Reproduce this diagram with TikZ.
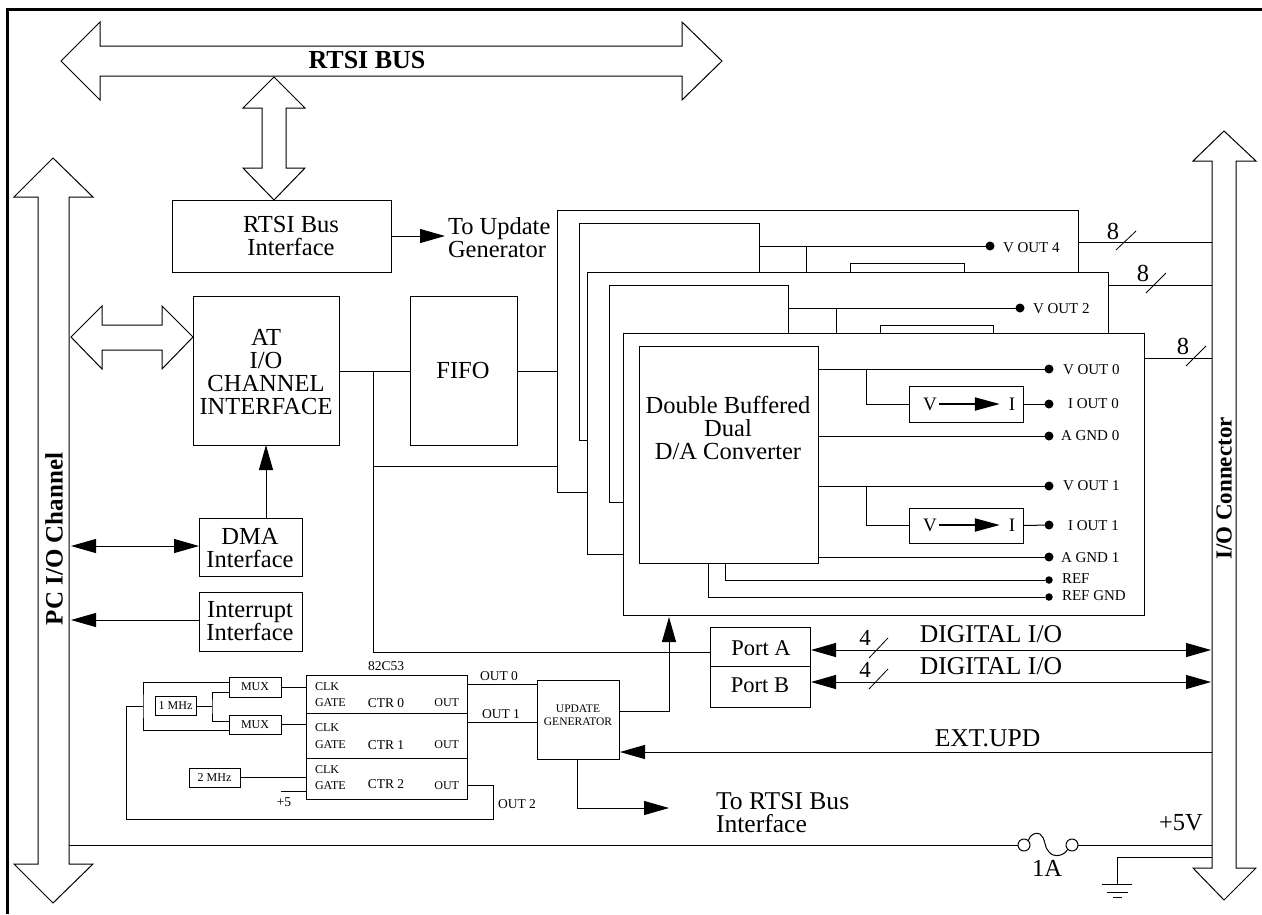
\documentclass[tikz,border=0pt]{standalone}
\usepackage{fontspec}
\setmainfont{Liberation Serif}
\usetikzlibrary{arrows.meta,calc}
\newcommand{\blk}[7][]{%
  \pgfmathsetmacro\blkw{#5-#3}\pgfmathsetmacro\blkh{#6-#4}%
  \node[bx,#1,minimum width=\blkw pt,minimum height=\blkh pt,anchor=north west] (#2) at (#3,#4) {#7};}
\tikzset{
  every path/.style={line width=1pt,line join=miter},
  bx/.style={draw,fill=white,inner sep=0pt,outer sep=0pt,align=center},
  txtL/.style={inner sep=0pt,outer sep=0pt,align=center,font=\fontsize{24.5}{23}\selectfont},
  txtX/.style={inner sep=0pt,outer sep=0pt,align=center,font=\fontsize{25.6}{23}\selectfont},
  txtM/.style={inner sep=0pt,outer sep=0pt,align=center,font=\fontsize{15}{15}\selectfont},
  txtO/.style={inner sep=0pt,outer sep=0pt,align=center,font=\fontsize{13.5}{13.5}\selectfont},
  txtS/.style={inner sep=0pt,outer sep=0pt,align=center,font=\fontsize{12}{12}\selectfont},
  txtT/.style={inner sep=0pt,outer sep=0pt,align=center,font=\fontsize{11.5}{13}\selectfont},
  txtB/.style={inner sep=0pt,outer sep=0pt,align=center,font=\fontsize{26}{26}\bfseries\selectfont},
  txtV/.style={inner sep=0pt,outer sep=0pt,font=\fontsize{19}{19}\selectfont},
  txtP/.style={inner sep=0pt,outer sep=0pt,font=\fontsize{22.5}{22.5}\selectfont},
  pin/.style={circle,fill=black,inner sep=0pt,outer sep=0pt,minimum size=9pt},
  pinS/.style={circle,fill=black,inner sep=0pt,outer sep=0pt,minimum size=7.5pt},
  arr/.style={-{Triangle[length=25pt,width=14pt]}},
  arrB/.style={{Triangle[length=25pt,width=14pt]}-{Triangle[length=25pt,width=14pt]}},
  heavy/.style={line width=2pt,-{Triangle[length=25pt,width=13pt]}},
  slash/.style={line width=0.8pt},
}
\begin{document}
\begin{tikzpicture}[x=1pt,y=-1pt]
\useasboundingbox (0,0) rectangle (1262,914);
% frame
\draw[line width=3pt] (7.5,914) -- (7.5,9.5) -- (1262,9.5);
% hollow buses
\draw (61,61) -- (100,22) -- (100,46) -- (682,46) -- (682,22) -- (722,61) -- (682,100) -- (682,76) -- (100,76) -- (100,100) -- cycle;
\draw (274,77) -- (305,108) -- (286,108) -- (286,168) -- (305,168) -- (274,200) -- (243,168) -- (262,168) -- (262,108) -- (243,108) -- cycle;
\draw (53,158) -- (93,197) -- (69,197) -- (69,864) -- (93,864) -- (53,903) -- (14,864) -- (38,864) -- (38,197) -- (14,197) -- cycle;
\draw (1224,131) -- (1256,161) -- (1236,161) -- (1236,868) -- (1256,868) -- (1224,900) -- (1193,868) -- (1212,868) -- (1212,161) -- (1193,161) -- cycle;
\draw (71,337) -- (102,306) -- (102,325) -- (162,325) -- (162,306) -- (193,337) -- (162,369) -- (162,350) -- (102,350) -- (102,369) -- cycle;
\coordinate (pcR) at (69,0);
\coordinate (ioL) at (1212,0);
\node[txtB] (rtsibus) at (367,60) {RTSI BUS};
\node[txtB,rotate=90,font=\fontsize{25}{25}\bfseries\selectfont] (pclabel) at (54,539) {PC I/O Channel};
\node[txtB,rotate=90,font=\fontsize{23}{23}\bfseries\selectfont] (iolabel) at (1224,488.5) {I/O Connector};
% left blocks
\blk{rtsi}{172}{200}{391}{272}{}
\node[txtL] (rtsit) at (291,236) {RTSI Bus\\Interface};
\blk{at}{193}{296}{339}{445}{}
\node[txtL] (att) at (266,372) {AT\\I/O\\CHANNEL\\INTERFACE};
\blk{fifo}{410}{296}{517}{445}{}
\node[txtL] (fifot) at (463,371) {FIFO};
\blk{dma}{199}{518}{302}{576}{}
\node[txtL] (dmat) at (250,548) {DMA\\Interface};
\blk{irq}{199}{592}{302}{651}{}
\node[txtL] (irqt) at (250,621) {Interrupt\\Interface};
\node[txtL,anchor=west,align=left] (togen) at (448,238) {To Update\\Generator};
\coordinate (rtsiTip) at (445,236);
\draw[arr] (rtsi.east |- rtsiTip) -- (rtsiTip);
\draw[arr] (dma.north -| at.south) -- (at.south);
\coordinate (dmaL) at (71,546);
\draw[arrB] (dmaL) -- (dma.west |- dmaL);
\coordinate (irqL) at (71,620);
\draw[arr] (irq.west |- irqL) -- (irqL);
% busses between blocks
\coordinate (busA) at (373,371);
\coordinate (busB) at (373,466);
\coordinate (busC) at (373,652);
\draw (at.east |- busA) -- (fifo.west |- busA);
% boards
\blk{bd4}{557}{210}{1078}{492}{}
\blk{in4}{579}{223}{759}{440}{}
\node[pin] (vo4) at (990,246) {};
\coordinate (br4) at (806,246);
\draw (in4.east |- vo4) -- (vo4);
\draw (br4) -- (806,272);
\blk{vi4}{850}{263}{964}{300}{}
\node[txtM,anchor=west] (vo4t) at (1003,248) {V OUT 4};
\blk{bd2}{587}{272}{1108}{554}{}
\blk{in2}{609}{285}{788}{502}{}
\node[pin] (vo2) at (1020,308) {};
\coordinate (br2) at (836,308);
\draw (in2.east |- vo2) -- (vo2);
\draw (br2) -- (836,333);
\blk{vi2}{880}{325}{993}{362}{}
\node[txtM,anchor=west] (vo2t) at (1033,309) {V OUT 2};
\blk{bd0}{623}{333}{1144}{615}{}
\blk{in0}{639}{346}{818}{563}{}
\node[txtL] (dact) at (728,428) {Double Buffered\\Dual\\D/A Converter};
% front-board signals
\node[pin] (vo0) at (1049,369) {};
\node[pin] (io0) at (1049,404) {};
\node[pin] (ag0) at (1049,436) {};
\node[pin] (vo1) at (1049,486) {};
\node[pin] (io1) at (1049,525) {};
\node[pin] (ag1) at (1049,557) {};
\node[pinS] (ref) at (1049,580) {};
\node[pinS] (rgn) at (1049,597) {};
\node[txtM,anchor=west] (vo0t) at (1063,370) {V OUT 0};
\node[txtM,anchor=west] (io0t) at (1068,404) {I OUT 0};
\node[txtM,anchor=west] (ag0t) at (1061,436) {A GND 0};
\node[txtM,anchor=west] (vo1t) at (1063,486) {V OUT 1};
\node[txtM,anchor=west] (io1t) at (1068,526) {I OUT 1};
\node[txtM,anchor=west] (ag1t) at (1061,558) {A GND 1};
\node[txtM,anchor=west] (reft) at (1062,579) {REF};
\node[txtM,anchor=west] (rgnt) at (1062,596) {REF GND};
\blk{vi0}{909}{386}{1023}{422}{}
\blk{vi1}{909}{508}{1023}{543}{}
\node[txtV] (v0) at (930,404) {V};
\node[txtV] (i0) at (1012,404) {I};
\node[txtV] (v1) at (930,525) {V};
\node[txtV] (i1) at (1012,525) {I};
\draw[heavy] ([xshift=2pt]v0.east) -- ([xshift=-9pt]i0.west);
\draw[heavy] ([xshift=2pt]v1.east) -- ([xshift=-9pt]i1.west);
\coordinate (br0) at (866,369);
\coordinate (br1) at (866,486);
\draw (in0.east |- vo0) -- (vo0);
\draw (br0) |- (vi0.west);
\draw (vi0.east) -- (io0);
\draw (in0.east |- ag0) -- (ag0);
\draw (in0.east |- vo1) -- (vo1);
\draw (br1) |- (vi1.west);
\draw (vi1.east) -- (io1);
\draw (in0.east |- ag1) -- (ag1);
\coordinate (refx) at (725,563);
\coordinate (rgnx) at (708,563);
\draw (refx) |- (ref);
\draw (rgnx) |- (rgn);
% board links
\draw (fifo.east |- busA) -- (bd4.west |- busA);
\draw (busA) -- (busC);
\draw (busB) -- (bd4.west |- busB);
\coordinate (l4) at (1078,242);
\coordinate (l2) at (1108,285);
\coordinate (l0) at (1144,358);
\draw (l4) -- (ioL |- l4);
\draw (l2) -- (ioL |- l2);
\draw (l0) -- (ioL |- l0);
\node[txtL] (n4) at (1113,231) {8};
\node[txtL] (n2) at (1143,273) {8};
\node[txtL] (n0) at (1183,346) {8};
\draw[slash] (1116,250) -- (1136,231);
\draw[slash] (1146,293) -- (1166,273);
\draw[slash] (1186,366) -- (1206,346);
% ports
\blk{pa}{710}{627}{810}{666}{}
\blk{pb}{710}{666}{810}{707}{}
\node[txtP] (pat) at (761,648) {Port A};
\node[txtP] (pbt) at (760,685) {Port B};
\draw (busC) -- (pa.west |- busC);
\coordinate (da) at (1211,650);
\coordinate (db) at (1211,682);
\draw[arrB] ([xshift=1pt]pa.east |- da) -- (da);
\draw[arrB] ([xshift=1pt]pb.east |- db) -- (db);
\node[txtX] (d1) at (991,634) {DIGITAL I/O};
\node[txtX] (d2) at (991,666) {DIGITAL I/O};
\node[txtL,font=\fontsize{23}{23}\selectfont] (n5) at (865,638) {4};
\node[txtL,font=\fontsize{23}{23}\selectfont] (n6) at (865,670) {4};
\draw[slash] (869,658) -- (888,638);
\draw[slash] (869,689) -- (888,669);
% counter
\blk{ctr0}{306}{675}{467}{713}{}
\blk{ctr1}{306}{713}{467}{758}{}
\blk{ctr2}{306}{758}{467}{799}{}
\node[txtO] (cn) at (386,666) {82C53};
\foreach \nm/\yc/\yg/\yt/\lbl in {a/687/703/703/CTR 0,b/728/745/745/CTR 1,c/770/786/784/CTR 2}{
  \node[txtS,anchor=west] (clk\nm) at (315,\yc) {CLK};
  \node[txtS,anchor=west] (gate\nm) at (315,\yg) {GATE};
  \node[txtO] (ctrt\nm) at (386,\yt) {\lbl};
  \node[txtS,anchor=east] (out\nm) at (459,\yg) {OUT};
}
\blk[font=\fontsize{12}{12}\selectfont]{mux0}{229}{677}{281}{697}{MUX}
\blk[font=\fontsize{12}{12}\selectfont]{mux1}{229}{715}{281}{734}{MUX}
\blk[font=\fontsize{12}{12}\selectfont]{mhz1}{155}{696}{196}{715}{1 MHz}
\blk[font=\fontsize{12}{12}\selectfont]{mhz2}{189}{768}{240}{787}{2 MHz}
\draw (mux0.east) -- (ctr0.west |- mux0.east);
\draw (mux1.east) -- (ctr1.west |- mux1.east);
\draw (mhz2.east) -- (ctr2.west |- mhz2.east);
\coordinate (mhzB) at (212,706);
\coordinate (mux0a) at (229,692);
\coordinate (mux1a) at (229,721);
\coordinate (mux0b) at (229,682);
\coordinate (mux1b) at (229,730);
\coordinate (fbx) at (143,706);
\draw (mhz1.east |- mhzB) -- (mhzB);
\draw (mux0a) -| (mhzB) |- (mux1a);
\draw (mux0b) -| (fbx) |- (mux1b);
\coordinate (o2) at (467,785);
\coordinate (o2a) at (493,819);
\draw (o2) -| (o2a) -- (126,819) -- (126,706) -- (fbx);
\coordinate (p5) at (281,791);
\draw (p5) -- (ctr2.west |- p5);
\node[txtO] (p5t) at (284,802) {+5};
% update generator
\blk{ug}{537}{680}{619}{759}{}
\node[txtT] (ugt) at (578,715) {UPDATE\\GENERATOR};
\coordinate (o0) at (467,684);
\coordinate (o1) at (467,722);
\draw (o0) -- (ug.west |- o0);
\draw (o1) -- (ug.west |- o1);
\node[txtO] (o0t) at (499,676) {OUT 0};
\node[txtO] (o1t) at (501,714) {OUT 1};
\node[txtO] (o2t) at (517,804) {OUT 2};
\coordinate (ugO) at (619,711);
\coordinate (upTip) at (669,617);
\draw[arr] (ugO) -| (upTip);
\coordinate (extY) at (0,752);
\draw[arr] (ioL |- extY) -- ([xshift=1pt]ug.east |- extY);
\node[txtX] (extt) at (987.5,738) {EXT.UPD};
\coordinate (ugD) at (577,759);
\coordinate (toTip) at (669,808);
\draw[arr] (ugD) |- (toTip);
\node[txtX,anchor=west,align=left] (tort) at (716,813) {To RTSI Bus\\Interface};
% +5V and fuse
\node[draw,circle,inner sep=0pt,outer sep=0pt,minimum size=12pt] (fL) at (1024,845) {};
\node[draw,circle,inner sep=0pt,outer sep=0pt,minimum size=12pt] (fR) at (1072,845) {};
\draw (pcR |- fL) -- (fL.west);
\draw (fR.east) -- (ioL |- fR);
\draw (fL.north east) .. controls (1030,834) and (1036,832) .. (1040,834) .. controls (1046,838) and (1044,848) .. (1049,852) .. controls (1054,858) and (1064,856) .. (fR.south west);
\node[txtL] (fuse) at (1047,868) {1A};
\node[txtL] (v5) at (1181,823) {+5V};
\coordinate (gTop) at (1212,857);
\coordinate (gnd) at (1117,884);
\draw (gTop) -| (gnd);
\draw (1102,884) -- (1132,884);
\draw (1107,892) -- (1128,892);
\draw (1113,897) -- (1122,897);
\end{tikzpicture}
\end{document}
